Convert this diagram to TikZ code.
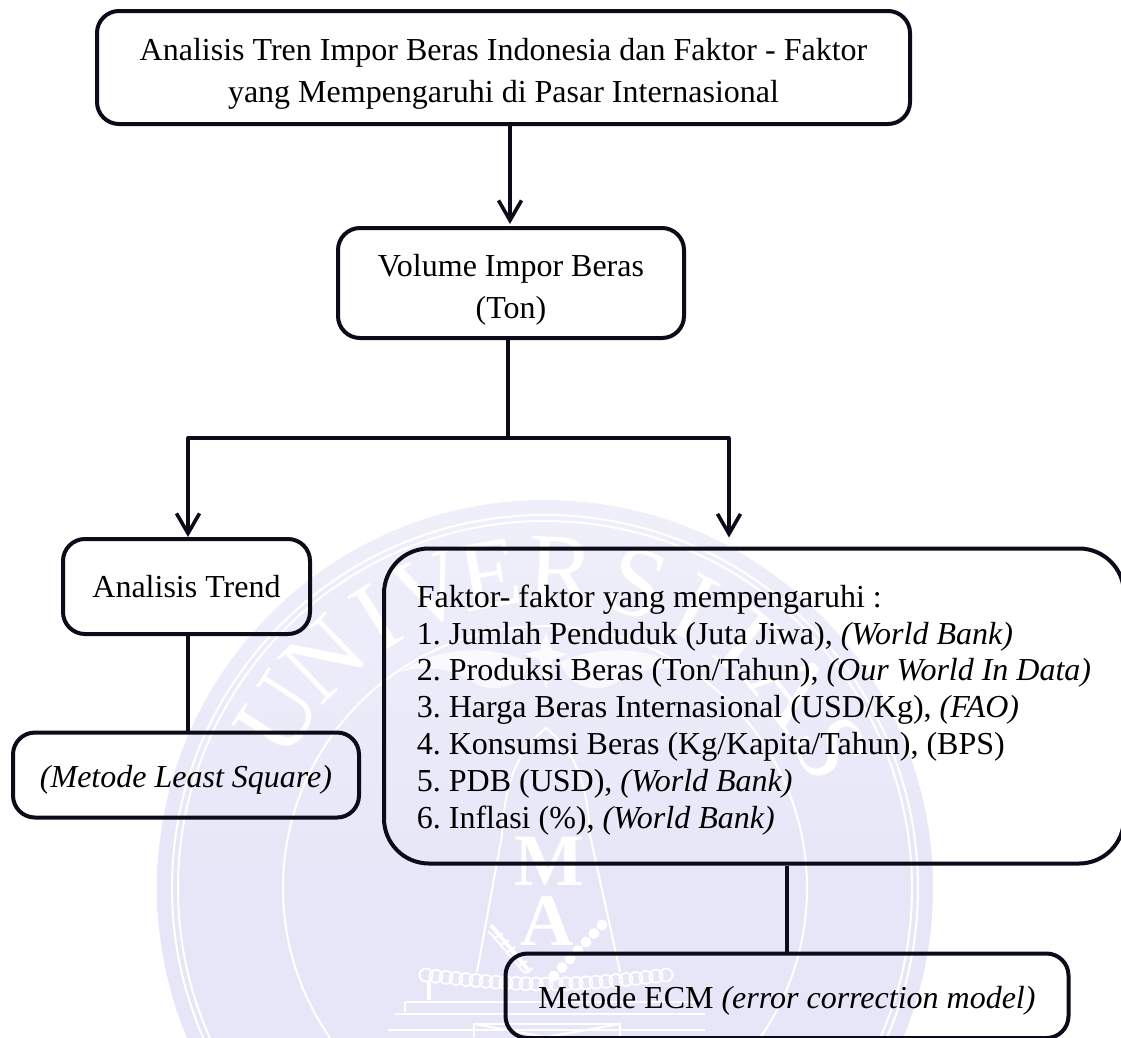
\documentclass[tikz,border=0pt]{standalone}
\usepackage{fontspec}
\setmainfont{Liberation Serif}
\usetikzlibrary{arrows.meta,calc}
\definecolor{wmbg}{HTML}{E6E6F8}
\definecolor{inkline}{HTML}{0B0B1A}
\newcommand{\pushdown}[1]{\rule{0pt}{\dimexpr 22pt+#1\relax}}
\tikzset{
  flowbox/.style={draw=inkline,line width=4pt,rounded corners=22pt,align=center,inner sep=0pt,font=\frenchspacing\fontsize{32}{42}\selectfont,text=black},
  conn/.style={draw=inkline,line width=3.6pt},
  arr/.style={conn,-{Straight Barb[length=20pt,width=23pt,line width=3.6pt]}},
  wmline/.style={draw=white,line width=2pt},
  wmbead/.style={draw=white,line width=1.8pt},
  wmletter/.style={text=white,inner sep=0pt,font=\fontsize{100}{100}\selectfont},
  wmbig/.style={text=white,inner sep=0pt,font=\bfseries\fontsize{74}{74}\selectfont}
}
\begin{document}
\begin{tikzpicture}[x=1pt,y=-1pt]
\useasboundingbox (0,0) rectangle (1121,1037);
\clip (0,0) rectangle (1121,1037);
% --- watermark seal ---
\shade[top color=wmbg!62!white,bottom color=wmbg,middle color=wmbg] (545,888) circle (388);
\draw[wmline] (545,888) circle (373);
\draw[wmline] (545,888) circle (367);
\draw[wmline] (545,888) circle (262);
\foreach \ltr/\ang [count=\i] in {U/147,N/134,I/122,V/111,E/100,R/87,S/73,I/62,T/51,A/39,S/26}{
  \node[wmletter,rotate=\ang-90] (wl\i) at ({545+318*cos(\ang)},{888-318*sin(\ang)}) {\ltr};
}
\node[wmbig] (wmM) at (549,861) {M};
\node[wmbig] (wmA) at (547,921) {A};
\draw[wmline] (502,835) -- (477,972);
\draw[wmline] (590,835) -- (620,972);
\draw[wmline] (502,835) .. controls (505,770) and (525,745) .. (546,728) .. controls (567,745) and (587,770) .. (590,835);
% wings and star
\fill[white,opacity=.75] (400,672) .. controls (440,645) and (490,645) .. (530,662) .. controls (520,690) and (490,695) .. (470,680) .. controls (450,668) and (425,665) .. (400,672) -- cycle;
\fill[white,opacity=.75] (690,672) .. controls (650,645) and (600,645) .. (560,662) .. controls (570,690) and (600,695) .. (620,680) .. controls (640,668) and (665,665) .. (690,672) -- cycle;
\fill[white,opacity=.85] (546,632) -- (552,650) -- (568,654) -- (552,660) -- (546,690) -- (540,660) -- (524,654) -- (540,650) -- cycle;
% chain, wheat, steps
\foreach \px in {0,1,...,24}{
  \draw[wmbead] ({426+\px*10},{975+9*sin(\px*7.5)}) circle (6.5);
}
\foreach \py in {0,...,6}{
  \draw[wmbead,fill=white] ({602-\py*8},{925+\py*8.5}) circle (4.5);
}
\draw[wmline,line width=4pt] (491,925) -- (530,972);
\foreach \py in {0,...,5}{
  \draw[wmline] ({495+\py*6},{938+\py*7}) -- ++(-7,-7);
  \draw[wmline] ({495+\py*6},{938+\py*7}) -- ++(8,-5);
}
\draw[wmline,line width=4pt] (429,982) -- (429,1000);
\draw[wmline] (405,1002) -- (695,1002) (405,1002) -- (405,1012) (395,1014) -- (705,1014) (388,1030) -- (705,1030);
\draw[wmline] (474,1037) -- (474,1024) -- (620,1024) -- (620,1037);
\draw[wmline] (474,1024) -- (546,1037) -- (620,1024);
% --- boxes ---
\node[flowbox,minimum width=813pt,minimum height=113pt] (top) at (503.5,67.5)
  {\pushdown{12pt}Analisis Tren Impor Beras Indonesia dan Faktor - Faktor\\yang Mempengaruhi di Pasar Internasional};
\node[flowbox,minimum width=346pt,minimum height=110pt] (vol) at (511,283)
  {\pushdown{13pt}Volume Impor Beras\\(Ton)};
\node[flowbox,minimum width=247pt,minimum height=95pt] (trend) at (186.5,586.5)
  {Analisis Trend};
\node[flowbox,minimum width=346pt,minimum height=85pt] (least) at (186,775)
  {\pushdown{10pt}\itshape (Metode Least Square)};
\node[flowbox,rounded corners=45pt,align=flush left,minimum width=740pt,minimum height=315pt,
      font=\frenchspacing\fontsize{32}{36.8}\selectfont] (fac) at (754,706)
  {\pushdown{8pt}Faktor- faktor yang mempengaruhi :\\
   1. Jumlah Penduduk (Juta Jiwa), \textit{(World Bank)}\\
   2. Produksi Beras (Ton/Tahun), \textit{(Our World In Data)}\\
   3. Harga Beras Internasional (USD/Kg), \textit{(FAO)}\\
   4. Konsumsi Beras (Kg/Kapita/Tahun), (BPS)\\
   5. PDB (USD), \textit{(World Bank)}\\
   6. Inflasi (\%), \textit{(World Bank)}};
\node[flowbox,minimum width=563pt,minimum height=84.5pt] (ecm) at (787,995.75)
  {\pushdown{10pt}Metode ECM \textit{(error correction model)}};
% --- connectors ---
\coordinate (hub) at (508,438);
\coordinate (lc) at (188,438);
\coordinate (rc) at (729,438);
\draw[arr,shorten >=2pt] ([xshift=6.5pt]top.south) -- ([xshift=-1pt]vol.north);
\draw[conn] (vol.south -| hub) -- (hub);
\draw[conn,line cap=round] (lc) -- (rc);
\draw[arr] (lc) -- (trend.north -| lc);
\draw[arr,shorten >=9pt] (rc) -- (fac.north -| rc);
\draw[conn] (trend.south -| lc) -- (least.north -| lc);
\draw[conn] (fac.south -| ecm.north) -- (ecm.north);
\end{tikzpicture}
\end{document}
